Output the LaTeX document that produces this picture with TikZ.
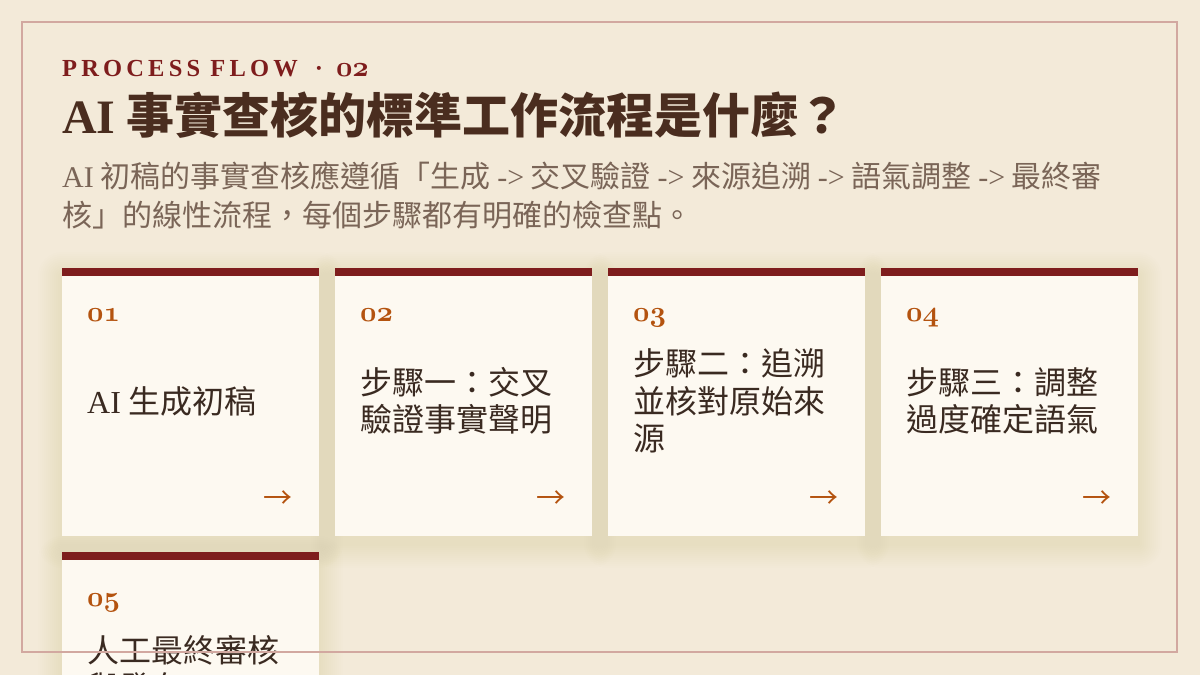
\documentclass[tikz,border=0pt]{standalone}
\usepackage{fontspec}
\setmainfont{Liberation Serif}
\newfontfamily\cjk{Noto Sans CJK TC}
\newfontfamily\kickerfont{Liberation Serif}[LetterSpace=17]

\definecolor{paper}{HTML}{F3EAD9}
\definecolor{cardfill}{HTML}{FDF9F1}
\definecolor{barred}{HTML}{7E1D1D}
\definecolor{rust}{HTML}{B4530F}
\definecolor{headink}{HTML}{4A2D1F}
\definecolor{ledeink}{HTML}{7A6557}
\definecolor{stepink}{HTML}{3A2A21}
\definecolor{framerose}{HTML}{D2A8A0}
\definecolor{shadowtone}{HTML}{9A7842}

\newcommand\lat[1]{{\rmfamily #1}}
\newcommand\oldnum[1]{\scalebox{1.15}{\fontencoding{OML}\fontfamily{cmm}\fontseries{b}\fontshape{it}\fontsize{24.88}{30}\selectfont #1}}

\begin{document}
\begin{tikzpicture}[x=1pt,y=-1pt,
  card/.style={anchor=north west,fill=cardfill,minimum width=257pt,minimum height=268pt,
    inner sep=0pt,outer sep=0pt},
  softshadow/.style={fill=shadowtone,opacity=.008},
  bar/.style={fill=barred},
  kicker/.style={anchor=base west,inner sep=0pt,text=barred,
    font=\kickerfont\bfseries\fontsize{24.5}{28}\selectfont},
  headline/.style={anchor=base west,inner sep=0pt,text=headink,
    font=\cjk\bfseries\fontsize{48}{54}\selectfont},
  lede/.style={anchor=base west,inner sep=0pt,align=left,text=ledeink,
    font=\cjk\fontsize{30}{39}\selectfont},
  stepnum/.style={anchor=base west,inner sep=0pt,text=rust},
  steptext/.style={anchor=west,inner sep=0pt,align=left,text=stepink,
    font=\cjk\fontsize{32}{37.5}\selectfont},
  nextarrow/.style={anchor=east,inner sep=0pt,text=rust,font=\cjk\fontsize{29}{30}\selectfont},
  frame/.style={draw=framerose,line width=2pt}]

  \useasboundingbox (0,0) rectangle (1200,675);
  \clip (0,0) rectangle (1200,675);
  \fill[paper] (0,0) rectangle (1200,675);

  % heading
  \node[kicker] (kicker) at (62,76) {PROCESS FLOW\hspace{17pt}·\hspace{13pt}\oldnum{02}};
  \node[headline] (headline) at (62,133) {\lat{AI} 事實查核的標準工作流程是什麼？};
  \node[lede] (lede) at (62,226) {\lat{AI} 初稿的事實查核應遵循「生成 \lat{->} 交叉驗證 \lat{->} 來源追溯 \lat{->} 語氣調整 \lat{->} 最終審\\核」的線性流程，每個步驟都有明確的檢查點。};

  % shadows under the cards
  \foreach \x/\y/\h in {62/268/268, 335/268/268, 608/268/268, 881/268/268, 62/552/300}
    \foreach \r in {2,4,...,24}
      \fill[softshadow,rounded corners=\r pt] (\x-\r,\y+8-\r) rectangle (\x+257+\r,\y+\h+8+\r);

  % first row of steps
  \foreach \i/\x/\txt in {1/62/{\lat{AI} 生成初稿},
                          2/335/{步驟一：交叉\\驗證事實聲明},
                          3/608/{步驟二：追溯\\並核對原始來\\源},
                          4/881/{步驟三：調整\\過度確定語氣}}{
    \node[card] (card\i) at (\x,268) {};
    \fill[bar] (card\i.north west) rectangle ++(257,8);
    \node[stepnum] (num\i) at (\x+25,321) {\oldnum{0\i}};
    \node[steptext] (step\i) at (\x+25,401) {\txt};
    \node[nextarrow] (arrow\i) at (\x+231,500) {→};
  }

  % second row, cut off by the page
  \node[card,minimum height=300pt] (card5) at (62,552) {};
  \fill[bar] (card5.north west) rectangle ++(257,8);
  \node[stepnum] (num5) at (87,606) {\oldnum{05}};
  \node[steptext] (step5) at (87,669) {人工最終審核\\與發布};

  \draw[frame] (22,22) rectangle (1177,652);
\end{tikzpicture}
\end{document}
